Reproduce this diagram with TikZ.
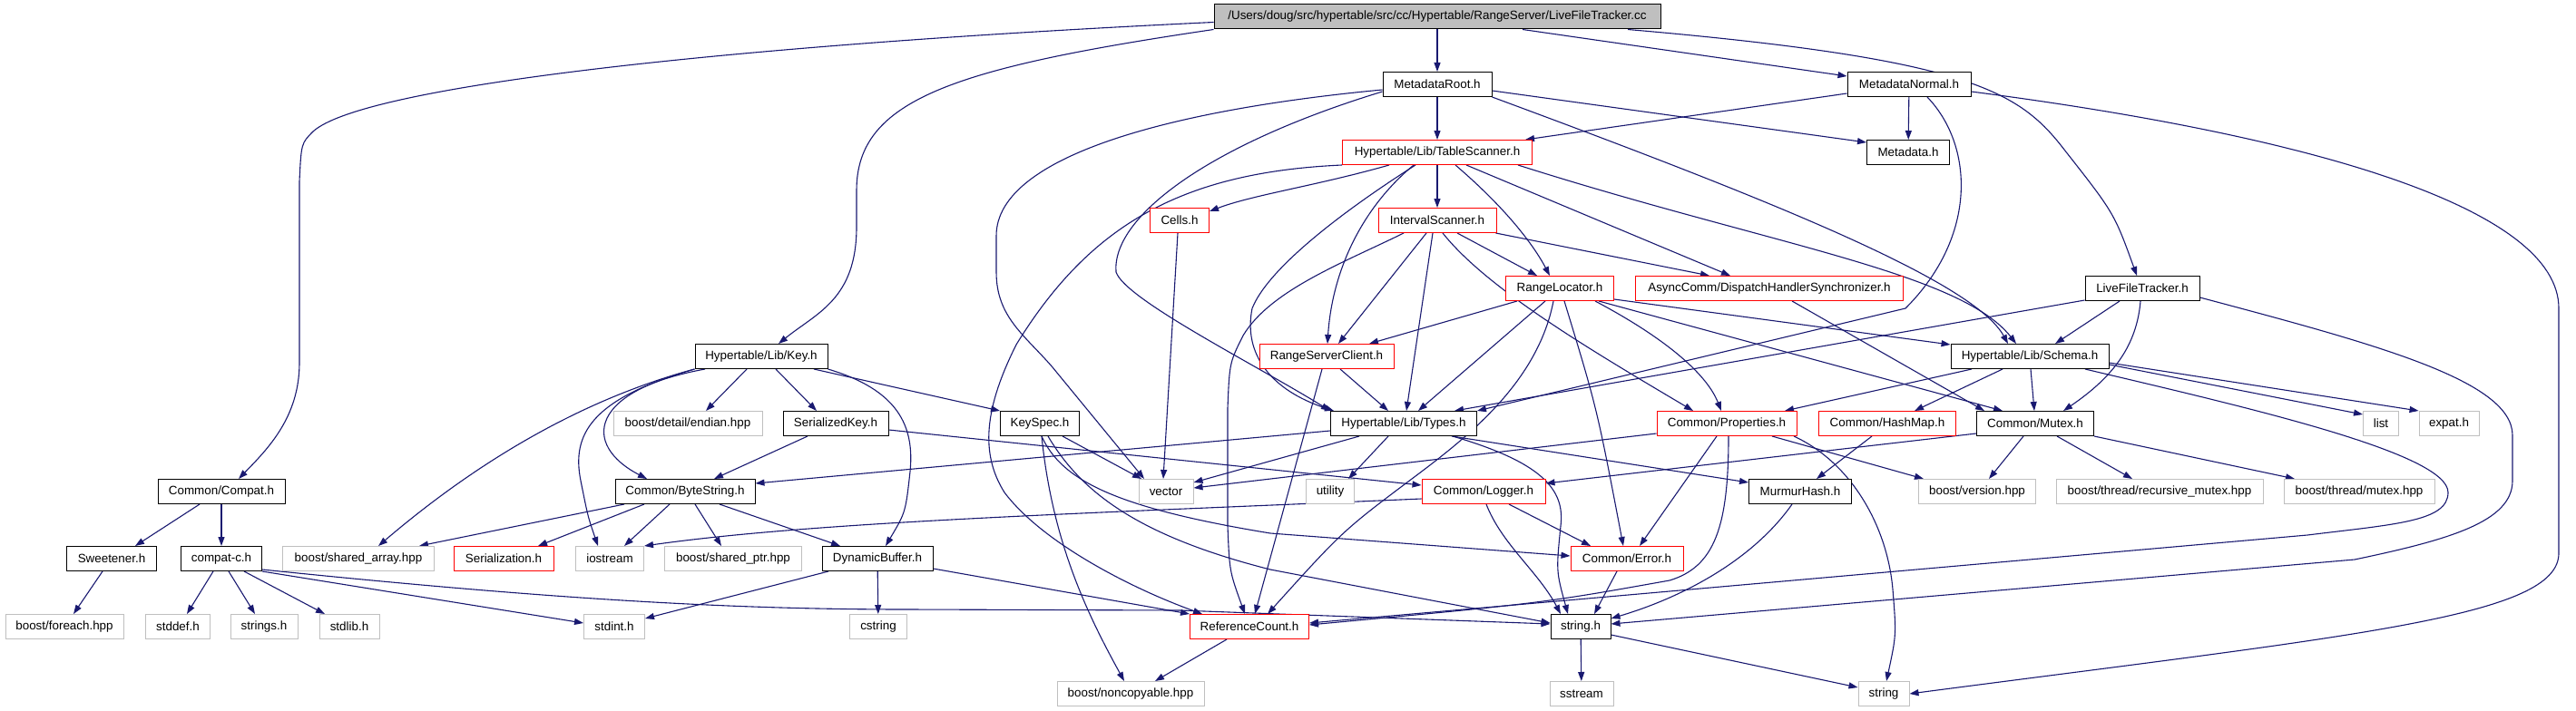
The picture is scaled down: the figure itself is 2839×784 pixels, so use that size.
\documentclass[tikz,border=0pt]{standalone}
\usepackage{fontspec}
\setmainfont{Liberation Sans}
\usetikzlibrary{arrows.meta, backgrounds}
\definecolor{edgeblue}{HTML}{191970}
\definecolor{sysgray}{HTML}{BFBFBF}
\definecolor{rootgray}{HTML}{BFBFBF}

\begin{document}
\begin{tikzpicture}[
    x=1pt, y=-1pt,
    file/.style={draw=black, fill=white, line width=1pt, minimum height=27pt, inner sep=0pt, font=\fontsize{13.4}{15}\selectfont},
    redfile/.style={file, draw=red},
    sysfile/.style={file, draw=sysgray},
    rootfile/.style={file, fill=rootgray},
    dep/.style={draw=edgeblue, line width=1.1pt, -{Triangle[length=10pt,width=7pt]}}
]
    \useasboundingbox (0,0) rectangle (2839,784);

    % Source file
    \node[rootfile, minimum width=492pt] (root) at (1584,18.5) {/Users/doug/src/hypertable/src/cc/Hypertable/RangeServer/LiveFileTracker.cc};

    % Rank 1-4
    \node[file, minimum width=120pt] (mroot) at (1584,93) {MetadataRoot.h};
    \node[file, minimum width=136pt] (mnormal) at (2104,93) {MetadataNormal.h};
    \node[redfile, minimum width=209pt] (tscan) at (1584,168) {Hypertable/Lib/TableScanner.h};
    \node[file, minimum width=91pt] (mdata) at (2103,168) {Metadata.h};
    \node[redfile, minimum width=65pt] (cells) at (1300,243) {Cells.h};
    \node[redfile, minimum width=130pt] (iscan) at (1584,243) {IntervalScanner.h};
    \node[redfile, minimum width=119pt] (rloc) at (1719,318) {RangeLocator.h};
    \node[redfile, minimum width=295pt] (dhs) at (1950,318) {AsyncComm/DispatchHandlerSynchronizer.h};
    \node[file, minimum width=126pt] (lft) at (2361,318) {LiveFileTracker.h};

    % Rank 5-6
    \node[file, minimum width=146pt] (key) at (839,393) {Hypertable/Lib/Key.h};
    \node[redfile, minimum width=148pt] (rsc) at (1462,393) {RangeServerClient.h};
    \node[file, minimum width=174pt] (schema) at (2237,393) {Hypertable/Lib/Schema.h};
    \node[sysfile, minimum width=164pt] (endian) at (758,467) {boost/detail/endian.hpp};
    \node[file, minimum width=116pt] (skey) at (921,467) {SerializedKey.h};
    \node[file, minimum width=87pt] (kspec) at (1146,467) {KeySpec.h};
    \node[file, minimum width=161pt] (types) at (1547,467) {Hypertable/Lib/Types.h};
    \node[redfile, minimum width=154pt] (props) at (1903,467) {Common/Properties.h};
    \node[redfile, minimum width=151pt] (hashmap) at (2080,467) {Common/HashMap.h};
    \node[file, minimum width=129pt] (mutex) at (2243,467) {Common/Mutex.h};
    \node[sysfile, minimum width=39pt] (list) at (2624,467) {list};
    \node[sysfile, minimum width=66pt] (expat) at (2699,467) {expat.h};

    % Rank 7
    \node[file, minimum width=140pt] (compat) at (244,542) {Common/Compat.h};
    \node[file, minimum width=154pt] (bytestr) at (755,542) {Common/ByteString.h};
    \node[sysfile, minimum width=60pt] (vector) at (1285,542) {vector};
    \node[sysfile, minimum width=53pt] (utility) at (1466,542) {utility};
    \node[redfile, minimum width=136pt] (logger) at (1635,542) {Common/Logger.h};
    \node[file, minimum width=113pt] (murmur) at (1984,542) {MurmurHash.h};
    \node[sysfile, minimum width=129pt] (bversion) at (2179,542) {boost/version.hpp};
    \node[sysfile, minimum width=228pt] (brmutex) at (2380,542) {boost/thread/recursive\_mutex.hpp};
    \node[sysfile, minimum width=166pt] (bmutex) at (2600,542) {boost/thread/mutex.hpp};

    % Rank 8
    \node[file, minimum width=99pt] (sweet) at (123,616) {Sweetener.h};
    \node[file, minimum width=89pt] (compatc) at (244,616) {compat-c.h};
    \node[sysfile, minimum width=167pt] (sharray) at (395,616) {boost/shared\_array.hpp};
    \node[redfile, minimum width=110pt] (serial) at (555,616) {Serialization.h};
    \node[sysfile, minimum width=75pt] (iostream) at (672,616) {iostream};
    \node[sysfile, minimum width=151pt] (shptr) at (808,616) {boost/shared\_ptr.hpp};
    \node[file, minimum width=122pt] (dynbuf) at (967,616) {DynamicBuffer.h};
    \node[redfile, minimum width=124pt] (error) at (1793,616) {Common/Error.h};

    % Rank 9-10
    \node[sysfile, minimum width=130pt] (foreach) at (71,691) {boost/foreach.hpp};
    \node[sysfile, minimum width=71pt] (stddef) at (196,691) {stddef.h};
    \node[sysfile, minimum width=74pt] (strings) at (291,691) {strings.h};
    \node[sysfile, minimum width=66pt] (stdlib) at (385,691) {stdlib.h};
    \node[sysfile, minimum width=67pt] (stdint) at (677,691) {stdint.h};
    \node[sysfile, minimum width=63pt] (cstring) at (968,691) {cstring};
    \node[redfile, minimum width=131pt] (refcount) at (1377,691) {ReferenceCount.h};
    \node[file, minimum width=66pt] (stringh) at (1742,691) {string.h};
    \node[sysfile, minimum width=162pt] (noncopy) at (1246,765) {boost/noncopyable.hpp};
    \node[sysfile, minimum width=70pt] (sstream) at (1743,765) {sstream};
    \node[sysfile, minimum width=56pt] (string) at (2076,765) {string};

    \begin{scope}[on background layer]
    % From the source file
    \draw[dep] (root) -- (mroot);
    \draw[dep] ([xshift=94pt]root.south) -- ([yshift=9pt]mnormal.west);
    \draw[dep] ([xshift=210pt]root.south) .. controls (2170,65) and (2225,100) .. (2275,165) .. controls (2330,235) .. ([xshift=-6pt]lft.north);
    \draw[dep] (root.south west) .. controls (1050,75) and (944,110) .. (944,210) -- (944,250) .. controls (944,330) and (900,345) .. ([xshift=19pt]key.north);
    \draw[dep] ([yshift=-6pt]root.west) .. controls (800,50) and (400,95) .. (345,145) .. controls (332,158) .. (330,200) -- (330,400) .. controls (330,460) and (295,495) .. ([xshift=19pt]compat.north);

    % MetadataRoot.h
    \draw[dep] (mroot) -- (tscan);
    \draw[dep] ([yshift=-7pt]mroot.east) -- ([yshift=11pt]mdata.west);
    \draw[dep] (mroot.south east) .. controls (1950,220) and (2175,310) .. ([xshift=-24pt]schema.north);
    \draw[dep] ([yshift=-6pt]mroot.west) .. controls (1300,120) and (1098,170) .. (1098,260) -- (1098,300) .. controls (1098,350) and (1130,370) .. (1160,405) -- ([xshift=-24pt]vector.north);
    \draw[dep] ([yshift=-8pt]mroot.west) .. controls (1330,160) and (1225,240) .. (1230,300) .. controls (1240,330) and (1380,400) .. (types.north west);

    % MetadataNormal.h
    \draw[dep] ([yshift=-10pt]mnormal.west) -- ([xshift=-8pt]tscan.north east);
    \draw[dep] (mnormal) -- (mdata);
    \draw[dep] ([xshift=20pt]mnormal.south) .. controls (2175,160) and (2180,260) .. (2100,340) -- (types.north east);
    \draw[dep] ([yshift=-8pt]mnormal.east) .. controls (2550,150) and (2820,230) .. (2820,340) -- (2820,610) .. controls (2820,680) and (2600,700) .. (string.east);

    % LiveFileTracker.h
    \draw[dep] ([yshift=1pt]lft.south west) -- ([xshift=56pt]types.north);
    \draw[dep] ([xshift=-25pt]lft.south) -- ([xshift=28pt]schema.north);
    \draw[dep] ([xshift=-2pt]lft.south) .. controls (2355,380) and (2330,415) .. ([xshift=31pt]mutex.north);
    \draw[dep] ([yshift=-10pt]lft.east) .. controls (2620,380) and (2769,420) .. (2769,480) -- (2769,530) .. controls (2769,575) and (2700,595) .. (2595,617) -- ([yshift=3pt]stringh.east);

    % TableScanner.h
    \draw[dep] (tscan) -- (iscan);
    \draw[dep] ([xshift=-53pt]tscan.south) .. controls (1450,205) and (1380,215) .. ([yshift=10pt]cells.east);
    \draw[dep] (tscan.south west) .. controls (1300,190) and (1200,250) .. (1120,380) .. controls (1085,450) and (1080,500) .. (1107,543) .. controls (1150,600) and (1250,650) .. ([xshift=-52pt]refcount.north);
    \draw[dep] ([xshift=-26pt]tscan.south) .. controls (1500,230) and (1468,300) .. ([xshift=1pt]rsc.north);
    \draw[dep] ([xshift=-24pt]tscan.south) .. controls (1500,220) and (1400,290) .. (1380,340) .. controls (1370,390) and (1400,430) .. ([xshift=4pt]types.north west);
    \draw[dep] ([xshift=20pt]tscan.south) .. controls (1660,230) and (1690,270) .. ([xshift=-11pt]rloc.north);
    \draw[dep] ([xshift=32pt]tscan.south) -- ([xshift=-43pt]dhs.north);
    \draw[dep] ([xshift=-16pt]tscan.south east) .. controls (1950,270) and (2160,300) .. ([xshift=-15pt]schema.north);

    % IntervalScanner.h
    \draw[dep] ([xshift=22pt]iscan.south) -- ([xshift=-25pt]rloc.north);
    \draw[dep] ([xshift=-1pt]iscan.south east) -- ([xshift=-66pt]dhs.north);
    \draw[dep] ([xshift=-12pt]iscan.south) -- ([xshift=13pt]rsc.north);
    \draw[dep] ([xshift=-5pt]iscan.south) -- ([xshift=3pt]types.north);
    \draw[dep] ([xshift=-37pt]iscan.south) .. controls (1480,290) and (1400,320) .. (1370,370) .. controls (1355,400) .. (1353,450) -- (1353,580) .. controls (1355,630) .. ([xshift=-5pt]refcount.north);
    \draw[dep] ([xshift=6pt]iscan.south) .. controls (1640,320) and (1760,390) .. ([xshift=-37pt]props.north);

    % RangeLocator.h
    \draw[dep] ([xshift=-47pt]rloc.south) -- ([xshift=47pt]rsc.north);
    \draw[dep] ([xshift=-16pt]rloc.south) -- ([xshift=16pt]types.north);
    \draw[dep] ([xshift=-7pt]rloc.south) .. controls (1695,420) and (1620,480) .. (1560,525) .. controls (1480,585) .. ([xshift=20pt]refcount.north);
    \draw[dep] ([xshift=5pt]rloc.south) .. controls (1760,450) .. ([xshift=-4pt]error.north);
    \draw[dep] ([xshift=39pt]rloc.south) .. controls (1830,370) and (1880,410) .. ([xshift=-6pt]props.north);
    \draw[dep] ([xshift=43pt]rloc.south) -- ([xshift=-36pt]mutex.north);
    \draw[dep] ([yshift=-12pt]rloc.east) -- ([yshift=13pt]schema.west);
    \draw[dep] ([xshift=25pt]dhs.south) -- ([xshift=-56pt]mutex.north);

    % RangeServerClient.h
    \draw[dep] ([xshift=15pt]rsc.south) -- ([xshift=-17pt]types.north);
    \draw[dep] ([xshift=-5pt]rsc.south) -- ([xshift=6pt]refcount.north);

    % Schema.h
    \draw[dep] ([xshift=-64pt]schema.south) -- ([xshift=64pt]props.north);
    \draw[dep] ([xshift=-30pt]schema.south) -- ([xshift=30pt]hashmap.north);
    \draw[dep] ([xshift=1pt]schema.south) -- ([xshift=-1pt]mutex.north);
    \draw[dep] ([xshift=61pt]schema.south) .. controls (2480,450) and (2698,500) .. (2698,543) .. controls (2698,575) and (2640,578) .. (2543,590) -- ([yshift=4pt]refcount.east);
    \draw[dep] ([yshift=-9pt]schema.east) -- ([yshift=10pt]list.west);
    \draw[dep] ([yshift=-7pt]schema.east) -- (expat.north west);

    % Types.h
    \draw[dep] ([yshift=-8pt]types.west) -- ([yshift=9pt]bytestr.east);
    \draw[dep] ([xshift=-49pt]types.south) -- ([yshift=10pt]vector.east);
    \draw[dep] ([xshift=-17pt]types.south) -- ([xshift=20pt]utility.north);
    \draw[dep] ([xshift=54pt]types.south) .. controls (1700,510) and (1725,540) .. (1720,580) .. controls (1715,630) .. ([xshift=-14pt]stringh.north);
    \draw[dep] ([xshift=53pt]types.south) -- ([yshift=10pt]murmur.west);

    % Properties.h, HashMap.h, Mutex.h
    \draw[dep] ([yshift=-11pt]props.west) -- ([yshift=4pt]vector.east);
    \draw[dep] ([xshift=-11pt]props.south) -- ([xshift=14pt]error.north);
    \draw[dep] ([xshift=2pt]props.south) .. controls (1905,580) and (1890,625) .. (1840,640) .. controls (1700,665) .. ([yshift=2pt]refcount.east);
    \draw[dep] ([xshift=50pt]props.south) -- ([xshift=-59pt]bversion.north);
    \draw[dep] ([xshift=74pt]props.south) .. controls (2040,510) and (2080,580) .. (2086,650) .. controls (2090,700) .. ([xshift=3pt]string.north);
    \draw[dep] ([xshift=-17pt]hashmap.south) -- ([xshift=18pt]murmur.north);
    \draw[dep] ([yshift=-11pt]mutex.west) -- ([yshift=9pt]logger.east);
    \draw[dep] ([xshift=-13pt]mutex.south) -- ([xshift=13pt]bversion.north);
    \draw[dep] ([xshift=24pt]mutex.south) -- ([xshift=-30pt]brmutex.north);
    \draw[dep] (mutex.south east) -- ([xshift=-71pt]bmutex.north);

    % Logger.h, MurmurHash.h, Error.h
    \draw[dep] ([yshift=-8pt]logger.west) .. controls (1200,566) and (900,575) .. (iostream.north east);
    \draw[dep] ([xshift=28pt]logger.south) -- ([xshift=-40pt]error.north);
    \draw[dep] ([xshift=3pt]logger.south) .. controls (1655,600) and (1695,630) .. ([xshift=-22pt]stringh.north);
    \draw[dep] ([xshift=-9pt]murmur.south) .. controls (1930,620) and (1850,660) .. ([yshift=9pt]stringh.east);
    \draw[dep] ([xshift=-11pt]error.south) -- ([xshift=15pt]stringh.north);

    % Key.h
    \draw[dep] ([xshift=-16pt]key.south) -- ([xshift=20pt]endian.north);
    \draw[dep] ([xshift=16pt]key.south) -- ([xshift=-21pt]skey.north);
    \draw[dep] ([xshift=58pt]key.south) -- (kspec.north west);
    \draw[dep] (key.south east) .. controls (990,430) and (1008,470) .. (1003,520) .. controls (998,565) .. ([xshift=9pt]dynbuf.north);
    \draw[dep] ([xshift=-62pt]key.south) .. controls (650,430) and (640,490) .. ([xshift=-42pt]bytestr.north);
    \draw[dep] (key.south west) .. controls (680,430) and (560,480) .. ([xshift=22pt]sharray.north);
    \draw[dep] (key.south west) .. controls (650,440) and (630,480) .. (640,530) .. controls (648,570) .. ([xshift=-13pt]iostream.north);

    % SerializedKey.h, KeySpec.h
    \draw[dep] ([xshift=-31pt]skey.south) -- ([xshift=32pt]bytestr.north);
    \draw[dep] ([yshift=-7pt]skey.east) -- ([yshift=7pt]logger.west);
    \draw[dep] ([xshift=25pt]kspec.south) -- ([xshift=-27pt]vector.north);
    \draw[dep] ([xshift=2pt]kspec.south) .. controls (1170,530) and (1230,560) .. (1400,588) -- ([yshift=3pt]error.west);
    \draw[dep] ([xshift=9pt]kspec.south) .. controls (1190,540) and (1250,590) .. (1400,628) -- ([yshift=4pt]stringh.west);
    \draw[dep] ([xshift=2pt]kspec.south) .. controls (1160,600) and (1200,680) .. ([xshift=-7pt]noncopy.north);

    % ByteString.h, DynamicBuffer.h
    \draw[dep] ([xshift=-67pt]bytestr.south) -- ([xshift=67pt]sharray.north);
    \draw[dep] ([xshift=-45pt]bytestr.south) -- ([xshift=38pt]serial.north);
    \draw[dep] ([xshift=-17pt]bytestr.south) -- ([xshift=16pt]iostream.north);
    \draw[dep] ([xshift=11pt]bytestr.south) -- ([xshift=-13pt]shptr.north);
    \draw[dep] ([xshift=38pt]bytestr.south) -- ([xshift=-41pt]dynbuf.north);
    \draw[dep] ([xshift=-54pt]dynbuf.south) -- ([yshift=9pt]stdint.east);
    \draw[dep] (dynbuf) -- (cstring);
    \draw[dep] ([yshift=-11pt]dynbuf.east) -- (refcount.north west);

    % Compat.h
    \draw[dep] ([xshift=-24pt]compat.south) -- ([xshift=26pt]sweet.north);
    \draw[dep] (compat) -- (compatc);
    \draw[dep] ([xshift=-10pt]sweet.south) -- ([xshift=10pt]foreach.north);
    \draw[dep] ([xshift=-9pt]compatc.south) -- ([xshift=10pt]stddef.north);
    \draw[dep] ([xshift=8pt]compatc.south) -- ([xshift=-10pt]strings.north);
    \draw[dep] ([xshift=25pt]compatc.south) -- ([xshift=-27pt]stdlib.north);
    \draw[dep] (compatc.south east) -- ([yshift=4pt]stdint.west);
    \draw[dep] ([yshift=2pt]compatc.south east) .. controls (600,660) and (800,672) .. (1000,672) -- (1300,673) -- ([yshift=3pt]stringh.west);

    % Cells.h, ReferenceCount.h, string.h
    \draw[dep] ([xshift=-2pt]cells.south) -- ([xshift=-3pt]vector.north);
    \draw[dep] ([xshift=-25pt]refcount.south) -- ([xshift=27pt]noncopy.north);
    \draw[dep] (stringh) -- (sstream);
    \draw[dep] ([yshift=-9pt]stringh.east) -- ([yshift=7pt]string.west);
    \end{scope}

\end{tikzpicture}
\end{document}
